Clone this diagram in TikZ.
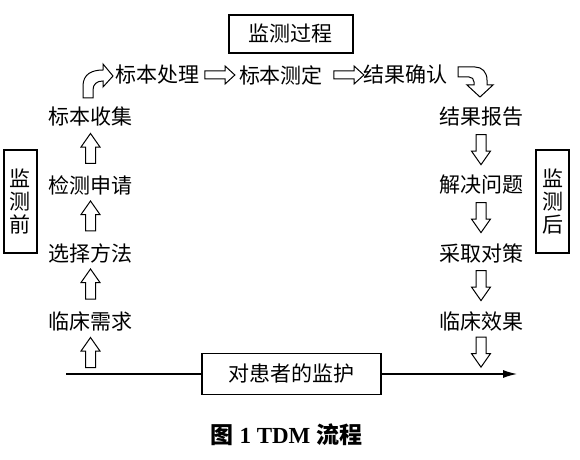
\documentclass[tikz,border=0pt]{standalone}
\usepackage{fontspec}
\setmainfont{Liberation Serif}
\newfontfamily\cjk{Noto Sans CJK SC}
\usetikzlibrary{shapes.arrows,arrows.meta}
\begin{document}
\begin{tikzpicture}[x=0.5pt, y=-0.5pt,
    every node/.style={font=\cjk\fontsize{10.5}{11.5}\selectfont},
    word/.style={inner sep=0pt},
    frame/.style={draw, line width=0.6pt, inner sep=0pt},
    uparrow/.style={draw, single arrow, shape border rotate=90, minimum height=15pt,
        single arrow head extend=2.25pt, single arrow tip angle=70,
        inner xsep=2.25pt, inner ysep=0pt, line width=0.5pt},
    downarrow/.style={uparrow, shape border rotate=270},
    rightarrow/.style={draw, single arrow, minimum height=15pt,
        single arrow head extend=2.5pt, single arrow tip angle=85,
        inner xsep=0pt, inner ysep=1.75pt, line width=0.5pt}]
\useasboundingbox (0,0) rectangle (580,460);
\node[frame, minimum width=62pt, minimum height=19pt] (during) at (291,34) {监测过程};
\node[frame, align=center, minimum width=16.5pt, minimum height=51.5pt] (before) at (20.5,201.5) {监\\测\\前};
\node[frame, align=center, minimum width=16.5pt, minimum height=51.5pt] (after) at (552.5,201.5) {监\\测\\后};
\node[word] (proc) at (157.5,75) {标本处理};
\node[word] (meas) at (281,75) {标本测定};
\node[word] (conf) at (406,75) {结果确认};
\node[word] (collect) at (90.5,117) {标本收集};
\node[word] (apply) at (90.5,185) {检测申请};
\node[word] (method) at (90.5,253) {选择方法};
\node[word] (need) at (90.5,321) {临床需求};
\node[word] (report) at (481,117) {结果报告};
\node[word] (solve) at (481,185) {解决问题};
\node[word] (act) at (481,253) {采取对策};
\node[word] (effect) at (481,322) {临床效果};
\node[frame, minimum width=89.5pt, minimum height=20.5pt] (care) at (291.5,374) {对患者的监护};
\coordinate (start) at (66,374);
\coordinate (end) at (517,374);
\draw[line width=0.6pt] (start) -- (care);
\draw[line width=0.6pt, -{Latex[length=7pt, width=4pt]}] (care) -- (end);
\node[uparrow, anchor=tip] (up1) at ([yshift=-2.75pt]collect.south) {};
\node[uparrow, anchor=tip] (up2) at ([yshift=-2.5pt]apply.south) {};
\node[uparrow, anchor=tip] (up3) at ([yshift=-2.5pt]method.south) {};
\node[uparrow, anchor=tip] (up4) at ([yshift=-2.75pt]need.south) {};
\node[downarrow, anchor=tail] (down1) at ([yshift=-3.5pt]report.south) {};
\node[downarrow, anchor=tail] (down2) at ([yshift=-3.5pt]solve.south) {};
\node[downarrow, anchor=tail] (down3) at ([yshift=-3.5pt]act.south) {};
\node[downarrow, anchor=tail] (down4) at ([yshift=-2.25pt]effect.south) {};
\node[rightarrow, anchor=tip] (right1) at ([xshift=-1.5pt]meas.west) {};
\node[rightarrow, anchor=tip] (right2) at ([xshift=0.5pt]conf.west) {};
\draw[line width=0.5pt] (83,98) -- (83,86) .. controls (83,74) and (92,70) .. (103,70)
    -- (103,64) -- (113,76) -- (103,87) -- (103,81) .. controls (97,81) and (93,84) .. (93,90)
    -- (93,98) -- cycle;
\draw[line width=0.5pt] (458,67) -- (475,67) .. controls (482,67) and (487,72) .. (487,80)
    -- (487,85) -- (493,85) -- (480,97) -- (467,85) -- (474,85) -- (474,82)
    .. controls (474,79) and (472,77) .. (469,77) -- (458,77) -- cycle;
\node[font=\fontsize{11.5}{13}\selectfont\bfseries] (caption) at (286.5,435) {{\cjk 图} 1 TDM {\cjk 流程}};
\end{tikzpicture}
\end{document}
